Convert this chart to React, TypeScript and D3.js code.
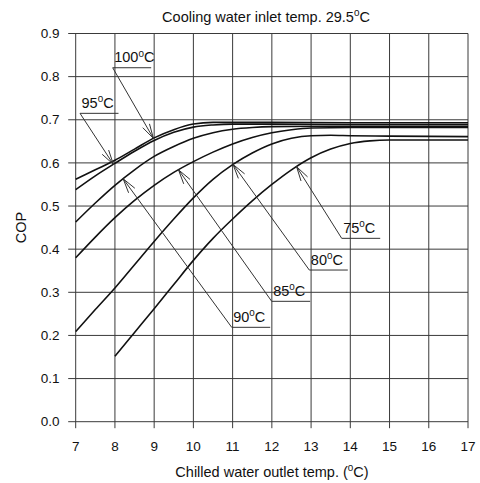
import React from "react";
import * as d3 from "d3";

// ---- data ----
const xTicks = [7, 8, 9, 10, 11, 12, 13, 14, 15, 16, 17];
const yTicks = [0, 0.1, 0.2, 0.3, 0.4, 0.5, 0.6, 0.7, 0.8, 0.9];
const hotTemps = ["100", "95", "90", "85", "80", "75"];

const x100 = [7, 7.5, 8, 8.5, 9, 9.5, 10, 10.5, 11, 12, 14, 17];
const cop100 = [0.562, 0.584, 0.606, 0.632, 0.658, 0.677, 0.69, 0.694, 0.694, 0.694, 0.693, 0.693];
const x95 = [7, 7.5, 8, 8.5, 9, 9.5, 10, 10.5, 11, 12, 14, 17];
const cop95 = [0.538, 0.57, 0.599, 0.627, 0.652, 0.671, 0.683, 0.688, 0.69, 0.69, 0.689, 0.689];
const x90 = [7, 7.5, 8, 8.5, 9, 9.5, 10, 10.5, 11, 11.5, 12, 13, 17];
const cop90 = [0.463, 0.507, 0.548, 0.584, 0.615, 0.638, 0.657, 0.67, 0.678, 0.682, 0.684, 0.685, 0.685];
const x85 = [7, 7.5, 8, 8.5, 9, 9.5, 10, 10.5, 11, 11.5, 12, 12.5, 13, 14, 17];
const cop85 = [0.38, 0.428, 0.473, 0.513, 0.548, 0.578, 0.603, 0.625, 0.644, 0.659, 0.67, 0.677, 0.681, 0.682, 0.682];
const x80 = [7, 7.5, 8, 8.5, 9, 9.5, 10, 10.5, 11, 11.5, 12, 12.5, 13, 13.5, 14, 15, 17];
const cop80 = [0.209, 0.26, 0.31, 0.364, 0.418, 0.47, 0.519, 0.562, 0.596, 0.623, 0.644, 0.657, 0.663, 0.664, 0.663, 0.662, 0.661];
const x75 = [8, 8.5, 9, 9.5, 10, 10.5, 11, 11.5, 12, 12.5, 13, 13.5, 14, 14.5, 15, 16, 17];
const cop75 = [0.152, 0.207, 0.262, 0.318, 0.374, 0.425, 0.47, 0.512, 0.55, 0.584, 0.612, 0.632, 0.645, 0.651, 0.653, 0.653, 0.653];

const seriesX = [x100, x95, x90, x85, x80, x75];
const seriesY = [cop100, cop95, cop90, cop85, cop80, cop75];
// x value where each label's arrow touches its curve
const arrowTipX = [8.98, 7.96, 8.21, 9.62, 11.01, 12.63];
// label underline start (data units)
const labelAtX = [7.943, 7.11, 10.977, 11.996, 12.955, 13.781];
const labelAtY = [0.8206, 0.7149, 0.2188, 0.2791, 0.3516, 0.4251];

// ---- layout ----
const W = 480;
const H = 483;
const X0 = 75.7, X1 = 468, Y0 = 421.7, Y1 = 33.5;
const FONT = "'Liberation Sans', Arial, Helvetica, sans-serif";

const x = d3.scaleLinear().domain([7, 17]).range([X0, X1]);
const y = d3.scaleLinear().domain([0, 0.9]).range([Y0, Y1]);

function interp(xs: number[], ys: number[], v: number) {
  for (let i = 0; i < xs.length - 1; i++) {
    if (v >= xs[i] && v <= xs[i + 1]) {
      const t = (v - xs[i]) / (xs[i + 1] - xs[i]);
      return ys[i] + t * (ys[i + 1] - ys[i]);
    }
  }
  return ys[ys.length - 1];
}

function Deg({ pre, size }: { pre: string; size: number }) {
  return (
    <>
      {pre}
      <tspan fontSize={size * 0.68} dy={-size * 0.38}>0</tspan>
      <tspan dy={size * 0.38}>C</tspan>
    </>
  );
}

export default function App() {
  const line = d3
    .line<[number, number]>()
    .x((d) => x(d[0]))
    .y((d) => y(d[1]))
    .curve(d3.curveMonotoneX);

  const gridColor = "#3a3a3a";
  const labelSize = 14.5;

  return (
    <svg
      width={W}
      height={H}
      style={{ position: "absolute", left: 0, top: 0, background: "#fff" }}
      fontFamily={FONT}
    >
      <rect x={0} y={0} width={W} height={H} fill="#fff" />
      {/* grid */}
      {xTicks.map((t) => (
        <g key={"gx" + t}>
          <line x1={x(t)} x2={x(t)} y1={Y1} y2={Y0 + 6.5} stroke={gridColor} strokeWidth={1} />
          <text x={x(t)} y={450.5} fontSize={13.5} textAnchor="middle" fill="#111">
            {t}
          </text>
        </g>
      ))}
      {yTicks.map((t) => (
        <g key={"gy" + t}>
          <line x1={X0 - 7.5} x2={X1} y1={y(t)} y2={y(t)} stroke={gridColor} strokeWidth={1} />
          <text x={59.5} y={y(t)} dy="0.35em" fontSize={13.5} textAnchor="end" fill="#111">
            {t.toFixed(1)}
          </text>
        </g>
      ))}

      {/* curves */}
      {seriesX.map((xs, i) => (
        <path
          key={"c" + i}
          d={line(xs.map((v, j) => [v, seriesY[i][j]] as [number, number])) || ""}
          fill="none"
          stroke="#111"
          strokeWidth={1.6}
        />
      ))}

      {/* labels with leader arrows */}
      {hotTemps.map((lab, i) => {
        const tx = x(arrowTipX[i]);
        const ty = y(interp(seriesX[i], seriesY[i], arrowTipX[i]));
        const sx = x(labelAtX[i]);
        const sy = y(labelAtY[i]);
        const ang = Math.atan2(sy - ty, sx - tx);
        const L = 15;
        const a = 0.26;
        const b1 = [tx + L * Math.cos(ang + a), ty + L * Math.sin(ang + a)];
        const b2 = [tx + L * Math.cos(ang - a), ty + L * Math.sin(ang - a)];
        return (
          <g key={"l" + lab} stroke="#333" strokeWidth={1} fill="none">
            <line x1={sx} y1={sy} x2={sx + 38.5} y2={sy} />
            <line x1={sx} y1={sy} x2={tx} y2={ty} />
            <line x1={tx} y1={ty} x2={b1[0]} y2={b1[1]} />
            <line x1={tx} y1={ty} x2={b2[0]} y2={b2[1]} />
            <text x={sx + 1.5} y={sy - 5.5} fontSize={labelSize} fill="#111" stroke="none">
              <Deg pre={lab} size={labelSize} />
            </text>
          </g>
        );
      })}

      {/* titles */}
      <text x={266} y={21.7} fontSize={14.5} textAnchor="middle" fill="#111">
        <Deg pre="Cooling water inlet temp. 29.5" size={14.5} />
      </text>
      <text x={272} y={476.5} fontSize={14.5} textAnchor="middle" fill="#111">
        {"Chilled water outlet temp. ("}
        <tspan fontSize={14.5 * 0.68} dy={-14.5 * 0.38}>0</tspan>
        <tspan dy={14.5 * 0.38}>C)</tspan>
      </text>
      <text
        transform={`translate(26,${(Y0 + Y1) / 2}) rotate(-90)`}
        fontSize={14.5}
        textAnchor="middle"
        fill="#111"
      >
        COP
      </text>
    </svg>
  );
}
